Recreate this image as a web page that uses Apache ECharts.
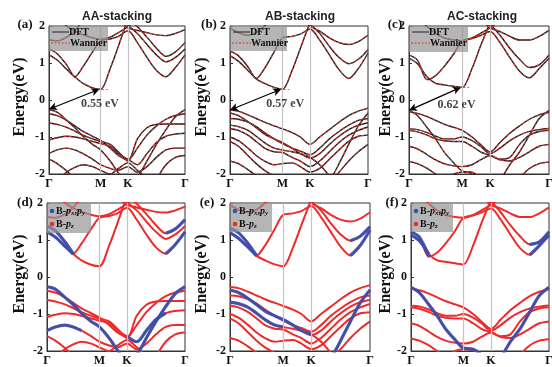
<!DOCTYPE html>
<html><head><meta charset="utf-8">
<script src="https://cdn.jsdelivr.net/npm/echarts@6/dist/echarts.min.js"></script>
<style>html,body{margin:0;padding:0;background:#fff}#c{width:552px;height:367px}</style>
</head><body><div id="c"></div>
<script>
// ---- data ----
const N = null;
const kpts = [0, 0.06, 0.13, 0.19, 0.25, 0.32, 0.38, 0.45, 0.51, 0.58, 0.65, 0.72, 0.79, 0.86, 0.93, 1.0];
const kTicks = [0, 0.38, 0.58, 1];
const kLabels = ['Γ', 'M', 'K', 'Γ'];
const panelTitles = ['AA-stacking', 'AB-stacking', 'AC-stacking'];
const panelLetters = ['(a)', '(b)', '(c)', '(d)', '(e)', '(f)'];
const gapLabels = ['0.55 eV', '0.57 eV', '0.62 eV'];
const gapVBM = [-0.25, -0.27, -0.28];
const gapCBM = [0.29, 0.29, 0.34];
const gapTextE = [-0.11, -0.1, -0.14];
const gapTextK = [0.375, 0.40, 0.34];

const bandsAA = [
  [1.22, 1.08, 0.83, 0.62, 0.45, 0.33, 0.29, 0.85, 1.45, 2.2, N, N, N, N, N, N],
  [1.38, 1.25, 0.95, 0.63, 0.9, 1.3, 1.6, 1.65, 1.72, 1.87, 1.55, 1.15, 0.8, 0.63, 0.88, 1.22],
  [N, N, N, N, N, N, N, N, 2.3, 2.02, 1.8, 1.5, 1.22, 1.03, 1.15, 1.38],
  [N, N, N, N, N, N, N, N, N, 2.2, 1.98, 1.7, 1.4, 1.18, 1.3, 1.55],
  [N, N, N, N, N, N, N, N, 2.2, 1.95, 1.88, 1.82, 1.76, 1.74, 1.8, 1.9],
  [1.62, 1.6, 1.7, 1.88, 2.15, N, N, N, N, N, N, N, N, N, N, N],
  [N, 2.3, 2.0, 1.86, 1.76, 1.68, 1.64, 1.7, 1.82, 1.98, 2.2, N, N, N, N, N],
  [-0.26, -0.33, -0.55, -0.75, -0.98, -1.2, -1.35, -1.65, -1.97, -2.3, -2.1, -1.65, -1.2, -0.8, -0.45, -0.26],
  [-0.37, -0.42, -0.55, -0.7, -0.85, -0.98, -1.1, -1.3, -1.5, -1.62, -1.3, -0.95, -0.7, -0.52, -0.42, -0.37],
  [-0.62, -0.66, -0.74, -0.84, -0.95, -1.05, -1.12, -1.2, -1.4, -1.65, -1.05, -0.75, -0.66, -0.65, -0.65, -0.65],
  [-1.08, -1.02, -0.98, -1.0, -1.05, -1.12, -1.18, -1.25, -1.45, -1.6, -1.75, -1.45, -1.15, -0.98, -0.92, -0.9],
  [-1.45, -1.35, -1.3, -1.35, -1.45, -1.6, -1.75, -1.85, -1.9, -1.8, -1.95, -1.8, -1.55, -1.35, -1.3, -1.3],
  [-1.6, -1.72, -1.92, -2.15, N, N, N, N, N, N, N, N, -2.15, -1.75, -1.55, -1.5],
  [N, -2.2, -1.95, -1.82, -1.75, -1.8, -1.9, -2.0, -1.85, -1.7, -1.9, -2.15, N, N, N, N]
];
const pxyAA = [[0, 0, 3], [1, 0, 3], [1, 13, 15], [3, 13, 15], [7, 0, 15], [11, 0, 4], [10, 9, 13]];

const bandsAB = [
  [1.2, 1.05, 0.8, 0.57, 0.45, 0.34, 0.29, 0.8, 1.4, 2.1, N, N, N, N, N, N],
  [1.32, 1.2, 0.9, 0.58, 0.85, 1.3, 1.68, 1.72, 1.78, 1.92, 1.62, 1.22, 0.82, 0.58, 0.85, 1.27],
  [N, N, N, N, N, N, N, N, 2.3, 2.05, 1.8, 1.45, 1.15, 0.98, 1.1, 1.36],
  [N, N, N, N, N, N, N, N, 2.25, 2.0, 1.86, 1.68, 1.55, 1.5, 1.58, 1.75],
  [1.95, 1.82, 1.75, 1.82, 2.0, 2.2, N, N, N, N, N, N, N, N, N, N],
  [-0.27, -0.3, -0.4, -0.5, -0.6, -0.7, -0.78, -0.88, -1.0, -1.2, -1.0, -0.8, -0.6, -0.42, -0.3, -0.22],
  [-0.35, -0.42, -0.58, -0.75, -0.92, -1.05, -1.15, -1.3, -1.45, -1.55, -1.75, -2.05, N, N, N, N],
  [N, N, N, N, N, N, N, N, N, N, -2.5, -2.2, -1.72, -1.2, -0.7, -0.35],
  [-0.5, -0.52, -0.6, -0.72, -0.88, -1.05, -1.18, -1.3, -1.38, -1.48, -1.3, -1.05, -0.85, -0.68, -0.55, -0.5],
  [-0.68, -0.72, -0.82, -0.98, -1.15, -1.3, -1.35, -1.4, -1.45, -1.57, -1.45, -1.2, -0.98, -0.8, -0.68, -0.62],
  [-0.77, -0.82, -0.95, -1.12, -1.3, -1.4, -1.42, -1.55, -1.65, -1.8, -1.65, -1.4, -1.15, -0.95, -0.82, -0.73],
  [-1.0, -1.1, -1.3, -1.5, -1.65, -1.75, -1.72, -1.7, -1.8, -1.95, -1.85, -1.6, -1.35, -1.12, -0.98, -0.95],
  [-1.12, -1.25, -1.5, -1.72, -1.9, -2.05, N, N, N, N, N, -2.2, -1.95, -1.65, -1.4, -1.2],
  [-1.65, -1.72, -1.88, -2.05, N, N, N, N, N, N, N, N, N, N, N, N]
];
const pxyAB = [[0, 0, 3], [1, 0, 3], [1, 13, 15], [2, 13, 15], [7, 10, 15], [6, 0, 9], [9, 0, 6]];

const bandsAC = [
  [1.13, 0.98, 0.62, 0.45, 0.41, 0.37, 0.34, 0.85, 1.45, 2.1, N, N, N, N, N, N],
  [1.22, 1.08, 0.55, 0.66, 0.9, 1.25, 1.6, 1.66, 1.74, 1.85, 1.55, 1.15, 0.78, 0.6, 0.85, 1.13],
  [N, N, N, N, N, N, N, N, 2.3, 2.05, 1.75, 1.4, 1.1, 0.88, 0.95, 1.22],
  [N, N, N, N, N, N, N, N, 2.2, 1.95, 1.85, 1.72, 1.62, 1.62, 1.72, 1.88],
  [N, 2.25, 1.98, 1.8, 1.68, 1.62, 1.6, 1.68, 1.8, 1.95, 2.15, N, N, N, N, N],
  [-0.28, -0.42, -0.75, -1.05, -1.4, -1.7, -1.92, -1.95, -2.1, N, -2.2, -1.75, -1.4, -0.95, -0.5, -0.28],
  [-0.32, -0.36, -0.45, -0.55, -0.65, -0.74, -0.82, -1.0, -1.2, -1.4, -1.15, -0.9, -0.7, -0.52, -0.4, -0.33],
  [-0.78, -0.8, -0.88, -0.98, -1.05, -1.05, -1.0, -1.1, -1.25, -1.45, -1.3, -1.1, -0.95, -0.85, -0.8, -0.77],
  [-0.82, -0.86, -0.95, -1.05, -1.1, -1.12, -1.12, -1.25, -1.4, -1.5, -1.6, -1.55, -1.2, -0.95, -0.85, -0.82],
  [-1.25, -1.32, -1.48, -1.62, -1.72, -1.78, -1.8, -1.75, -1.62, -1.5, -1.62, -1.65, -1.55, -1.4, -1.25, -1.2],
  [-1.66, -1.72, -1.85, -2.0, -2.15, N, N, N, N, N, N, N, -2.1, -1.85, -1.72, -1.68],
  [N, N, N, N, -2.2, -2.0, -1.95, -1.98, -2.1, N, N, N, N, N, N, N]
];
const pxyAC = [[0, 0, 2], [1, 0, 2], [1, 13, 15], [2, 13, 15], [5, 0, 15]];

// ---- layout / style ----
const SERIF = 'Liberation Serif, Times New Roman, serif';
const SANS = 'Liberation Sans, Arial, sans-serif';
const grids = [
  {left: 49, top: 26, width: 136, height: 148},
  {left: 230, top: 26, width: 138, height: 148},
  {left: 409, top: 26, width: 140, height: 148},
  {left: 47, top: 203, width: 138, height: 148},
  {left: 230, top: 203, width: 140, height: 148},
  {left: 411, top: 203, width: 138, height: 148}
];
const allBands = [bandsAA, bandsAB, bandsAC];
const allPxy = [pxyAA, pxyAB, pxyAC];
const RED = '#ee2b2b', BLUE = '#3450b0';

const toData = (band, keep) => kpts.map((k, j) => [k, (band[j] == null || (keep && !keep(j))) ? '-' : band[j]]);

const xAxes = [], yAxes = [], series = [];
grids.forEach((g, i) => {
  xAxes.push({
    gridIndex: i, type: 'value', min: 0, max: 1,
    axisLine: {show: true, onZero: false, lineStyle: {color: '#333', width: 1}},
    axisTick: {show: false}, splitLine: {show: false},
    axisLabel: {
      customValues: kTicks, margin: 4, color: '#111', fontFamily: SERIF, fontWeight: 'bold', fontSize: 12,
      formatter: v => { let b = 0; kTicks.forEach((t, n) => { if (Math.abs(t - v) < Math.abs(kTicks[b] - v)) b = n; }); return kLabels[b]; }
    }
  });
  yAxes.push({
    gridIndex: i, type: 'value', min: -2, max: 2, interval: 1,
    axisLine: {show: true, onZero: false, lineStyle: {color: '#333', width: 1}},
    axisTick: {show: true, inside: true, length: 3, lineStyle: {color: '#333'}},
    splitLine: {show: false},
    axisLabel: {margin: 4, color: '#111', fontFamily: SERIF, fontWeight: 'bold', fontSize: 12}
  });
  // high-symmetry lines
  series.push({
    type: 'line', xAxisIndex: i, yAxisIndex: i, data: [], silent: true, z: 1,
    markLine: {silent: true, symbol: 'none', label: {show: false},
      lineStyle: {color: '#c4c4c4', width: 1.2, type: 'solid'},
      data: [{xAxis: kTicks[1]}, {xAxis: kTicks[2]}]}
  });
});

// top panels: DFT (black) + Wannier (red dashed)
for (let p = 0; p < 3; p++) {
  allBands[p].forEach(b => {
    series.push({type: 'line', xAxisIndex: p, yAxisIndex: p, data: toData(b), smooth: 0.3, showSymbol: false, symbol: 'none',
      silent: true, z: 2, lineStyle: {color: '#1a1a1a', width: 1.4}});
    series.push({type: 'line', xAxisIndex: p, yAxisIndex: p, data: toData(b), smooth: 0.3, showSymbol: false, symbol: 'none',
      silent: true, z: 3, lineStyle: {color: '#e8352b', width: 1, type: [3, 2]}});
  });
  // gap arrow
  series.push({type: 'line', xAxisIndex: p, yAxisIndex: p, data: [], silent: true, z: 5,
    markLine: {silent: true, label: {show: false}, symbol: ['arrow', 'arrow'], symbolSize: [6, 8],
      lineStyle: {color: '#000', width: 1.2, type: 'solid'},
      data: [
        [{coord: [0, gapVBM[p]]}, {coord: [kTicks[1] - 0.01, gapCBM[p]]}]
      ]}});
  series.push({type: 'line', xAxisIndex: p, yAxisIndex: p, data: [], silent: true, z: 5,
    markLine: {silent: true, label: {show: false}, symbol: 'none',
      lineStyle: {color: '#666', width: 0.8, type: [2, 2]},
      data: [[{coord: [kTicks[1] - 0.02, gapCBM[p]]}, {coord: [kTicks[1] + 0.05, gapCBM[p]]}]]}});
  series.push({type: 'scatter', xAxisIndex: p, yAxisIndex: p, silent: true, z: 6, symbolSize: 0,
    data: [[gapTextK[p], gapTextE[p]]],
    label: {show: true, position: 'inside', formatter: gapLabels[p], color: '#111', fontFamily: SERIF, fontWeight: 'bold', fontSize: 12}});
}

// bottom panels: orbital projection
for (let p = 0; p < 3; p++) {
  const gi = p + 3;
  allBands[p].forEach(b => {
    series.push({type: 'line', xAxisIndex: gi, yAxisIndex: gi, data: toData(b), smooth: 0.3, showSymbol: false, symbol: 'none',
      silent: true, z: 2, lineStyle: {color: RED, width: 2}});
  });
  allPxy[p].forEach(([bi, a, e]) => {
    series.push({type: 'line', xAxisIndex: gi, yAxisIndex: gi, data: toData(allBands[p][bi], j => j >= a && j <= e),
      smooth: 0.3, showSymbol: false, symbol: 'none', silent: true, z: 3, lineStyle: {color: BLUE, width: 3.2, opacity: 0.9}});
  });
}

// ---- text / legends ----
const graphic = [];
const titleX = [117, 300, 482];
panelTitles.forEach((t, i) => graphic.push({type: 'text', x: titleX[i], y: 17, z: 20,
  style: {text: t, fontFamily: SANS, fontWeight: 'bold', fontSize: 12, fill: '#222', textAlign: 'center', textVerticalAlign: 'middle'}}));
const letterPos = [[25, 25], [209, 25], [395, 25], [25, 203], [207, 203], [392, 203]];
panelLetters.forEach((t, i) => graphic.push({type: 'text', x: letterPos[i][0], y: letterPos[i][1], z: 20,
  style: {text: t, fontFamily: SERIF, fontWeight: 'bold', fontSize: 13, fill: '#111', textAlign: 'center', textVerticalAlign: 'middle'}}));
const yNameX = [20, 202, 386, 20, 202, 386];
grids.forEach((g, i) => graphic.push({type: 'text', x: yNameX[i], y: g.top + g.height / 2 - 3, rotation: Math.PI / 2, z: 20,
  style: {text: 'Energy(eV)', fontFamily: SERIF, fontWeight: 'bold', fontSize: 16, fill: '#111', textAlign: 'center', textVerticalAlign: 'middle'}}));

// top legends
const topLegend = [[49, 26, 59, 25], [230, 26, 57, 25], [409, 26, 59, 26]];
topLegend.forEach(([x, y, w, h]) => {
  graphic.push({type: 'rect', z: 10, shape: {x: x, y: y, width: w, height: h}, style: {fill: 'rgba(150,150,150,0.7)'}});
  graphic.push({type: 'line', z: 11, shape: {x1: x + 3, y1: y + 6, x2: x + 20, y2: y + 6}, style: {stroke: '#222', lineWidth: 1}});
  graphic.push({type: 'text', z: 11, x: x + 20, y: y + 6, style: {text: 'DFT', fontFamily: SERIF, fontWeight: 'bold', fontSize: 10, fill: '#111', textVerticalAlign: 'middle'}});
  graphic.push({type: 'line', z: 11, shape: {x1: x + 2, y1: y + 17, x2: x + 21, y2: y + 17}, style: {stroke: '#e8352b', lineWidth: 1, lineDash: [2, 1.5]}});
  graphic.push({type: 'text', z: 11, x: x + 21, y: y + 17, style: {text: 'Wannier', fontFamily: SERIF, fontWeight: 'bold', fontSize: 10, fill: '#111', textVerticalAlign: 'middle'}});
});
// bottom legends
const botLegend = [[47, 203, 44, 30], [230, 203, 42, 29], [411, 203, 42, 29]];
const rich = {
  b: {fontFamily: SERIF, fontWeight: 'bold', fontSize: 10, fill: '#111', lineHeight: 12},
  i: {fontFamily: SERIF, fontWeight: 'bold', fontStyle: 'italic', fontSize: 10, fill: '#111', lineHeight: 12},
  s: {fontFamily: SERIF, fontWeight: 'bold', fontStyle: 'italic', fontSize: 7, fill: '#111', lineHeight: 12, verticalAlign: 'bottom', padding: [3, 0, 0, 0]}
};
botLegend.forEach(([x, y, w, h]) => {
  graphic.push({type: 'rect', z: 10, shape: {x: x, y: y, width: w, height: h}, style: {fill: 'rgba(150,150,150,0.7)'}});
  graphic.push({type: 'circle', z: 11, shape: {cx: x + 5, cy: y + 8, r: 2.3}, style: {fill: BLUE}});
  graphic.push({type: 'text', z: 11, x: x + 9, y: y + 8, style: {text: '{b|B-}{i|p}{s|x}{b|,}{i|p}{s|y}', rich: rich, textVerticalAlign: 'middle'}});
  graphic.push({type: 'circle', z: 11, shape: {cx: x + 5, cy: y + 21, r: 2.3}, style: {fill: RED}});
  graphic.push({type: 'text', z: 11, x: x + 9, y: y + 21, style: {text: '{b|B-}{i|p}{s|z}', rich: rich, textVerticalAlign: 'middle'}});
});

const chart = echarts.init(document.getElementById('c'), null, {renderer: 'canvas'});
chart.setOption({
  animation: false,
  backgroundColor: '#fff',
  grid: grids.map(g => Object.assign({show: true, borderColor: '#333', borderWidth: 1, backgroundColor: 'transparent', containLabel: false, outerBoundsMode: 'none'}, g)),
  xAxis: xAxes, yAxis: yAxes, series: series, graphic: graphic
});
</script></body></html>
